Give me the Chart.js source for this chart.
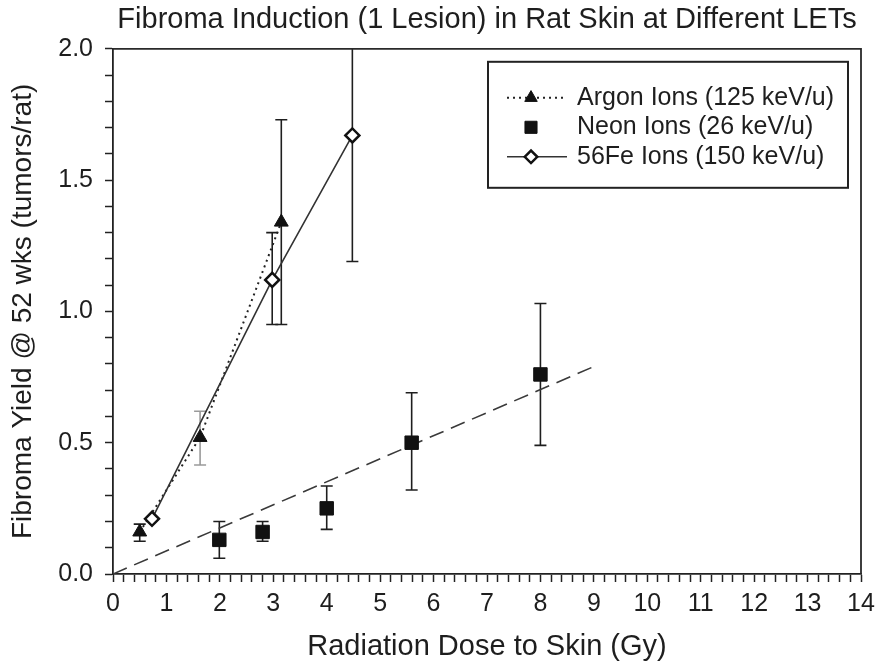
<!DOCTYPE html>
<html>
<head>
<meta charset="utf-8">
<title>Fibroma Induction</title>
<script src="https://cdn.jsdelivr.net/npm/chart.js@4.4.1/dist/chart.umd.min.js"></script>
<style>
  html, body { margin: 0; padding: 0; background: #fff; }
  #wrap { width: 883px; height: 664px; position: relative; }
</style>
</head>
<body>
<div id="wrap"><canvas id="chartFibroma"></canvas></div>
<script>
// data (dose in Gy, yield in tumors/rat)
const argonDose  = [0.5, 1.63, 3.15];
const argonYield = [0.16, 0.52, 1.34];
const argonLow   = [0.125, 0.415, 0.95];
const argonHigh  = [0.19, 0.62, 1.73];

const neonDose  = [1.99, 2.8, 4.0, 5.59, 8.0];
const neonYield = [0.13, 0.16, 0.25, 0.50, 0.76];
const neonLow   = [0.06, 0.125, 0.17, 0.32, 0.49];
const neonHigh  = [0.20, 0.20, 0.335, 0.69, 1.03];

const feDose  = [0.73, 2.98, 4.48];
const feYield = [0.21, 1.12, 1.67];
const feLow   = [null, 0.95, 1.19];
const feHigh  = [null, 1.30, 2.15];

const neonFitDose  = [0, 9];
const neonFitYield = [0, 0.79];

const xTickValues = [0, 14];
const yTickValues = [0, 2];

const FONT = 'Arial, "Liberation Sans", Helvetica, sans-serif';
const INK = '#1e1e1e';

function toPoints(xs, ys) {
  return xs.map((x, i) => ({ x: x, y: ys[i] }));
}

// vertical error bars with caps, under the markers
const errorBars = {
  id: 'errorBars',
  beforeDatasetsDraw(chart) {
    const { ctx, chartArea, scales } = chart;
    ctx.save();
    ctx.beginPath();
    ctx.rect(chartArea.left, chartArea.top, chartArea.right - chartArea.left, chartArea.bottom - chartArea.top);
    ctx.clip();
    chart.data.datasets.forEach(ds => {
      if (!ds.errLow) return;
      ds.data.forEach((p, i) => {
        if (ds.errLow[i] == null) return;
        const x = scales.x.getPixelForValue(p.x);
        const y1 = scales.y.getPixelForValue(ds.errLow[i]);
        const y2 = scales.y.getPixelForValue(ds.errHigh[i]);
        ctx.strokeStyle = ds.errColors ? ds.errColors[i] : INK;
        ctx.lineWidth = 1.6;
        ctx.beginPath();
        ctx.moveTo(x, y1); ctx.lineTo(x, y2);
        ctx.moveTo(x - 6, y1); ctx.lineTo(x + 6, y1);
        ctx.moveTo(x - 6, y2); ctx.lineTo(x + 6, y2);
        ctx.stroke();
      });
    });
    ctx.restore();
  }
};

// frame + legend box inside the plot
const frameAndLegend = {
  id: 'frameAndLegend',
  afterDraw(chart) {
    const { ctx, chartArea } = chart;
    ctx.save();
    ctx.strokeStyle = '#2a2a2a';
    ctx.lineWidth = 1.8;
    ctx.beginPath();
    ctx.moveTo(chartArea.left, chartArea.top);
    ctx.lineTo(chartArea.right, chartArea.top);
    ctx.lineTo(chartArea.right, chartArea.bottom);
    ctx.stroke();

    const boxW = 360, boxH = 126;
    const bx = chartArea.right - 13 - boxW;
    const by = chartArea.top + 13;
    ctx.lineWidth = 2;
    ctx.strokeStyle = '#222';
    ctx.strokeRect(bx, by, boxW, boxH);

    const rows = chart.data.datasets.filter(ds => ds.legendRow != null);
    rows.forEach(ds => {
      const y = by + 36 + ds.legendRow * 29.5;
      if (ds.showLine) {
        ctx.save();
        ctx.strokeStyle = ds.borderColor;
        ctx.lineWidth = ds.borderWidth;
        ctx.setLineDash(ds.borderDash || []);
        ctx.beginPath();
        ctx.moveTo(bx + 19, y);
        ctx.lineTo(bx + 79, y);
        ctx.stroke();
        ctx.restore();
      }
      ctx.save();
      ctx.fillStyle = ds.pointBackgroundColor;
      ctx.strokeStyle = ds.pointBorderColor;
      ctx.lineWidth = ds.pointBorderWidth;
      ctx.setLineDash([]);
      Chart.helpers.drawPoint(ctx, {
        pointStyle: ds.pointStyle,
        radius: ds.pointRadius * 0.9,
        rotation: 0,
        borderWidth: ds.pointBorderWidth
      }, bx + 43, y);
      ctx.restore();

      ctx.fillStyle = INK;
      ctx.font = '25px ' + FONT;
      ctx.textBaseline = 'middle';
      ctx.textAlign = 'left';
      ctx.fillText(ds.label, bx + 89, y);
    });
    ctx.restore();
  }
};

const ctx = document.getElementById('chartFibroma');
new Chart(ctx, {
  type: 'scatter',
  data: {
    datasets: [
      {
        label: 'Neon fit',
        data: toPoints(neonFitDose, neonFitYield),
        showLine: true,
        borderColor: '#3a3a3a',
        borderWidth: 1.6,
        borderDash: [15, 8],
        pointRadius: 0,
        order: 4
      },
      {
        label: 'Argon Ions (125 keV/u)',
        data: toPoints(argonDose, argonYield),
        errLow: argonLow,
        errHigh: argonHigh,
        errColors: [INK, '#9a9a9a', INK],
        showLine: true,
        borderColor: '#222',
        borderWidth: 2,
        borderDash: [2, 4],
        pointStyle: 'triangle',
        pointRadius: 8,
        pointBackgroundColor: '#111',
        pointBorderColor: '#111',
        pointBorderWidth: 1,
        legendRow: 0,
        order: 2
      },
      {
        label: 'Neon Ions (26 keV/u)',
        data: toPoints(neonDose, neonYield),
        errLow: neonLow,
        errHigh: neonHigh,
        showLine: false,
        pointStyle: 'rect',
        pointRadius: 9.5,
        pointBackgroundColor: '#111',
        pointBorderColor: '#111',
        pointBorderWidth: 1,
        legendRow: 1,
        order: 3
      },
      {
        label: '56Fe Ions (150 keV/u)',
        data: toPoints(feDose, feYield),
        errLow: feLow,
        errHigh: feHigh,
        showLine: true,
        borderColor: '#333',
        borderWidth: 1.6,
        pointStyle: 'rectRot',
        pointRadius: 7,
        pointBackgroundColor: '#fff',
        pointBorderColor: '#111',
        pointBorderWidth: 2.5,
        legendRow: 2,
        order: 1
      }
    ]
  },
  options: {
    responsive: true,
    maintainAspectRatio: false,
    animation: false,
    layout: { padding: { top: 0, right: 22, bottom: 0, left: 0 } },
    plugins: {
      legend: { display: false },
      tooltip: { enabled: false },
      title: {
        display: true,
        fullSize: false,
        text: 'Fibroma Induction (1 Lesion) in Rat Skin at Different LETs',
        color: INK,
        font: { family: FONT, size: 29, weight: 'normal' },
        padding: { top: 3, bottom: 11 }
      }
    },
    scales: {
      x: {
        type: 'linear',
        min: xTickValues[0],
        max: xTickValues[1],
        afterFit: s => { s.height = 90; },
        border: { display: true, color: '#222', width: 1.8 },
        grid: { drawOnChartArea: false, drawTicks: true, tickLength: 8, tickColor: '#222', tickWidth: 1.5 },
        ticks: {
          stepSize: 0.2,
          maxTicksLimit: 200,
          autoSkip: false,
          maxRotation: 0,
          padding: 7,
          color: INK,
          font: { family: FONT, size: 25 },
          callback: v => Math.abs(v - Math.round(v)) < 1e-6 ? String(Math.round(v)) : ''
        },
        title: {
          display: true,
          text: 'Radiation Dose to Skin (Gy)',
          color: INK,
          font: { family: FONT, size: 29 },
          padding: { top: 0, bottom: 0 }
        }
      },
      y: {
        type: 'linear',
        min: yTickValues[0],
        max: yTickValues[1],
        afterFit: s => { s.width = 113; },
        border: { display: true, color: '#222', width: 1.8 },
        grid: { drawOnChartArea: false, drawTicks: true, tickLength: 8, tickColor: '#222', tickWidth: 1.5 },
        ticks: {
          stepSize: 0.1,
          maxTicksLimit: 200,
          autoSkip: false,
          padding: 12,
          color: INK,
          font: { family: FONT, size: 25 },
          callback: v => Math.abs(v * 2 - Math.round(v * 2)) < 1e-6 ? v.toFixed(1) : ''
        },
        title: {
          display: true,
          text: 'Fibroma Yield @ 52 wks (tumors/rat)',
          color: INK,
          font: { family: FONT, size: 28 },
          padding: { top: 6, bottom: 0 }
        }
      }
    }
  },
  plugins: [errorBars, frameAndLegend]
});
</script>
</body>
</html>
